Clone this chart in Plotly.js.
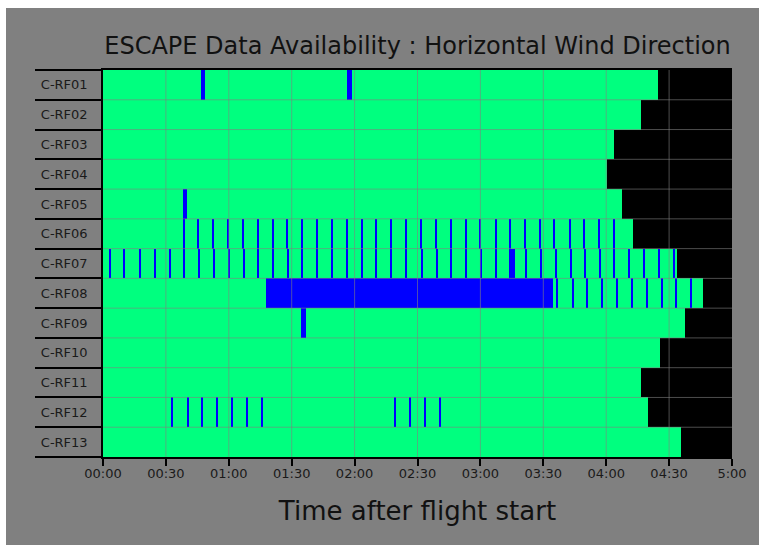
<!DOCTYPE html>
<html>
<head>
<meta charset="utf-8">
<script src="https://cdn.plot.ly/plotly-3.0.1.min.js"></script>
<style>
  html, body { margin: 0; padding: 0; background: #ffffff; }
  #chart { width: 765px; height: 550px; }
</style>
</head>
<body>
<div id="chart"></div>
<script>
// ---------------- DATA (minutes after flight start) ----------------
const flights = ['C-RF01','C-RF02','C-RF03','C-RF04','C-RF05','C-RF06','C-RF07',
                 'C-RF08','C-RF09','C-RF10','C-RF11','C-RF12','C-RF13'];
const flightEnd = [264.5, 256.8, 243.6, 240.5, 247.4, 252.6, 273.6,
                   286.3, 277.4, 265.5, 256.8, 259.8, 275.8];
const windowEnd = 300;

// longer gaps: [start, end]
const gapsRF01 = [[46.6, 48.8], [116.5, 118.6]];
const gapsRF05 = [[38.2, 40.2]];
const gapsRF07 = [[193.6, 196.5]];
const gapsRF08 = [[77.7, 214.5]];
const gapsRF09 = [[94.4, 96.7]];

// short dropouts: centre times
const spikesRF06 = [38.6, 45.6, 52.6, 59.8, 66.9, 73.9, 81.1, 87.9, 95.1, 102.2,
                    109.4, 116.4, 123.4, 130.3, 137.5, 144.7, 151.8, 158.8, 165.8, 173.0,
                    180.1, 187.3, 194.4, 201.3, 208.3, 215.4, 222.6, 229.5, 236.7, 243.7];
const spikesRF07 = [3.3, 10.3, 17.6, 24.7, 31.8, 38.8, 45.8, 52.8, 60.0, 67.1,
                    74.1, 81.1, 88.1, 95.2, 102.2, 109.4, 116.5, 123.5, 130.5, 137.5,
                    144.7, 152.0, 159.2, 166.1, 173.3, 180.3, 187.6, 201.7, 208.8, 215.9,
                    223.1, 230.0, 237.0, 243.9, 250.9, 258.2, 265.2, 272.5];
const spikesRF08 = [216.7, 224.0, 231.0, 238.0, 245.3, 252.4, 259.5, 266.6, 273.4, 280.6];
const spikesRF12 = [33.2, 40.4, 47.4, 54.4, 61.5, 68.7, 75.8, 139.3, 146.4, 153.6, 160.7];
const spikeDuration = 0.6;

const xTickVals = [0, 30, 60, 90, 120, 150, 180, 210, 240, 270, 300];
const xTickText = ['00:00','00:30','01:00','01:30','02:00','02:30','03:00','03:30','04:00','04:30','5:00'];

// ---------------- BUILD TRACES ----------------
const rows = flights.map((_, i) => i);

const gapBlocks = {
  'C-RF01': gapsRF01, 'C-RF05': gapsRF05, 'C-RF07': gapsRF07,
  'C-RF08': gapsRF08, 'C-RF09': gapsRF09
};
const gapSpikes = {
  'C-RF06': spikesRF06, 'C-RF07': spikesRF07, 'C-RF08': spikesRF08, 'C-RF12': spikesRF12
};

const blueY = [], blueBase = [], blueLen = [];
flights.forEach((f, i) => {
  (gapBlocks[f] || []).forEach(g => { blueY.push(i); blueBase.push(g[0]); blueLen.push(g[1] - g[0]); });
  (gapSpikes[f] || []).forEach(t => { blueY.push(i); blueBase.push(t - spikeDuration / 2); blueLen.push(spikeDuration); });
});

const common = { type: 'bar', orientation: 'h', width: 1, hoverinfo: 'skip', showlegend: false };

const traces = [
  Object.assign({}, common, {
    y: rows, base: flightEnd, x: flightEnd.map(e => windowEnd - e),
    marker: { color: '#000000', line: { width: 0 } }
  }),
  Object.assign({}, common, {
    y: rows, base: rows.map(() => 0), x: flightEnd,
    marker: { color: '#00ff7f', line: { width: 0 } }
  }),
  Object.assign({}, common, {
    y: blueY, base: blueBase, x: blueLen,
    marker: { color: '#0000ff', line: { width: 0 } }
  })
];

// ---------------- LAYOUT ----------------
const L = 103, R = 33, T = 70, B = 93, W = 765, H = 550;
const pw = W - L - R, ph = H - T - B;
const px2x = p => (p - L) / pw;
const px2y = p => (H - B - p) / ph;

const shapes = [];
// grey figure panel on the white page
shapes.push({
  type: 'rect', xref: 'paper', yref: 'paper', layer: 'below',
  x0: px2x(6), x1: px2x(759), y0: px2y(545), y1: px2y(8),
  fillcolor: '#808080', line: { width: 0 }
});
// grid drawn above the bars
const gridColor = 'rgba(128,128,128,0.6)';
xTickVals.slice(1, -1).forEach(v => shapes.push({
  type: 'line', xref: 'x', yref: 'paper', layer: 'above',
  x0: v, x1: v, y0: 0, y1: 1, line: { color: gridColor, width: 1 }
}));
rows.slice(0, -1).forEach(i => shapes.push({
  type: 'line', xref: 'paper', yref: 'y', layer: 'above',
  x0: 0, x1: 1, y0: i + 0.5, y1: i + 0.5, line: { color: gridColor, width: 1 }
}));

const font = 'DejaVu Sans, sans-serif';
const layout = {
  width: W, height: H,
  margin: { l: L, r: R, t: T, b: B, pad: 0 },
  paper_bgcolor: '#ffffff',
  plot_bgcolor: '#808080',
  barmode: 'overlay',
  bargap: 0,
  hovermode: false,
  dragmode: false,
  title: {
    text: 'ESCAPE Data Availability : Horizontal Wind Direction',
    font: { family: font, size: 24, color: '#111111' },
    x: 0.5, xref: 'paper', xanchor: 'center',
    y: 1 - 46 / H, yref: 'container', yanchor: 'middle'
  },
  xaxis: {
    range: [0, windowEnd],
    tickvals: xTickVals, ticktext: xTickText,
    ticks: 'outside', ticklen: 7, tickwidth: 1.5, tickcolor: '#000000',
    ticklabelstandoff: -3,
    tickfont: { family: font, size: 13, color: '#1a1a1a' },
    showgrid: false, zeroline: false,
    showline: true, linecolor: '#000000', linewidth: 1.5, mirror: true,
    title: { text: 'Time after flight start', font: { family: font, size: 26, color: '#111111' }, standoff: 21 },
    fixedrange: true
  },
  yaxis: {
    range: [flights.length - 0.5, -0.5],
    tickvals: rows, ticktext: flights,
    ticks: '', ticklabelstandoff: 11,
    tickfont: { family: font, size: 13, color: '#1a1a1a' },
    showgrid: false, zeroline: false,
    showline: true, linecolor: '#000000', linewidth: 1.5,
    minor: {
      tickvals: rows.map(i => i - 0.5).concat([flights.length - 0.5]),
      ticks: 'outside', ticklen: 66, tickwidth: 1.5, tickcolor: '#000000', showgrid: false
    },
    fixedrange: true
  },
  shapes: shapes
};

Plotly.newPlot('chart', traces, layout, { displayModeBar: false, scrollZoom: false });
</script>
</body>
</html>
